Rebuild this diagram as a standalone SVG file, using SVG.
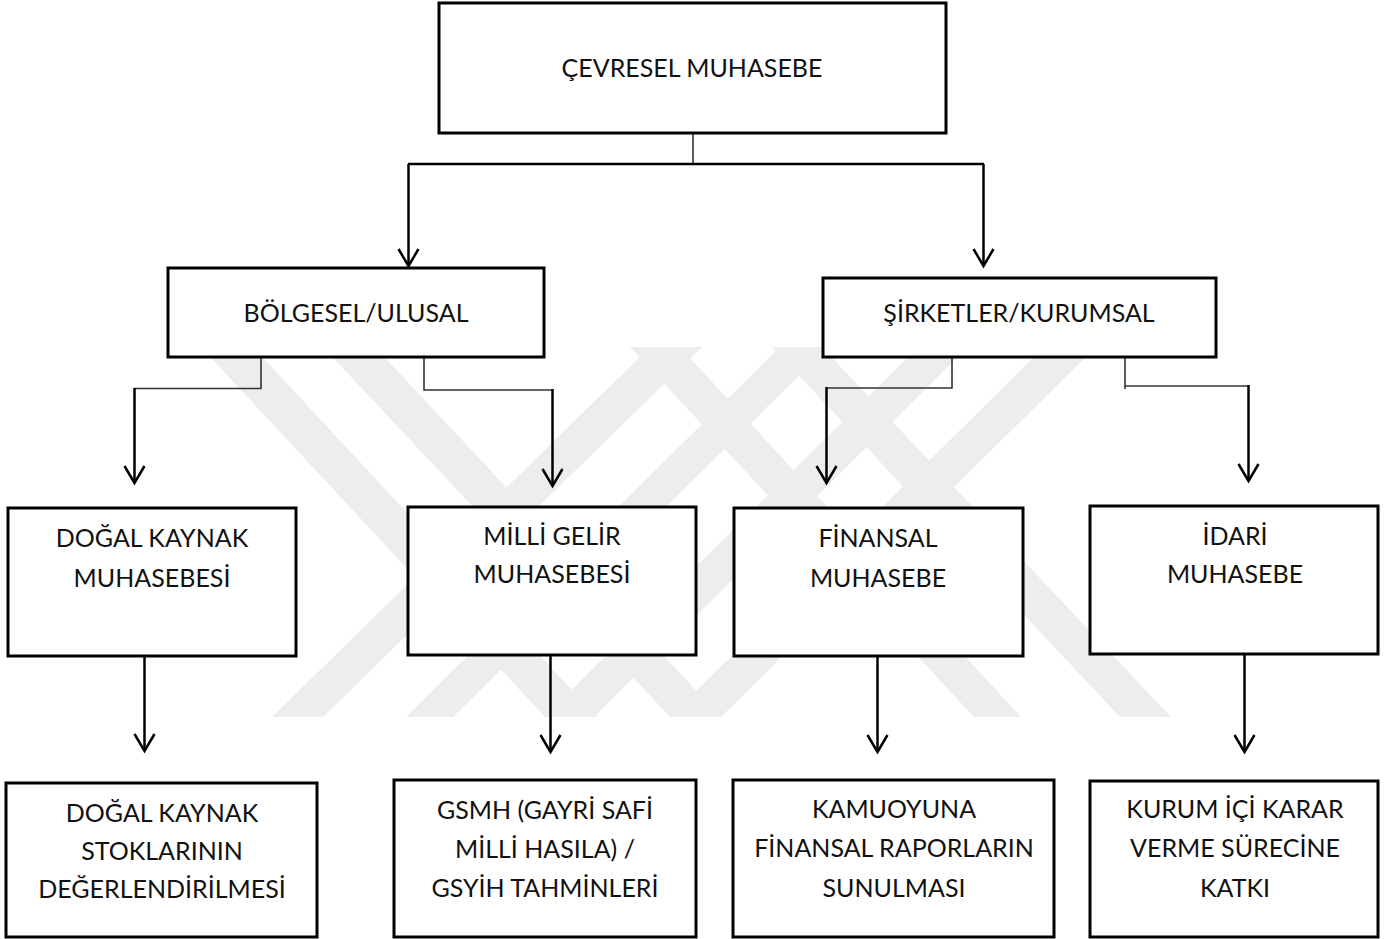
<svg xmlns="http://www.w3.org/2000/svg" width="1387" height="939" viewBox="0 0 1387 939">
<style>
.box{fill:#ffffff;stroke:#000000;stroke-width:3}
.t{font-family:Lato,"Open Sans","Liberation Sans",sans-serif;font-size:25px;fill:#111111;text-anchor:middle}
.stub{fill:none;stroke:#333333;stroke-width:1.6}
.ln{fill:none;stroke:#000000;stroke-width:2.5}
.wm{fill:#ededed}
</style>
<defs>
<marker id="ah" markerUnits="userSpaceOnUse" viewBox="-22 -13 26 26" refX="0" refY="0" markerWidth="26" markerHeight="26" orient="auto">
<path d="M-17,-10 L0,0 L-17,10" fill="none" stroke="#000000" stroke-width="2.5" stroke-linejoin="miter"/>
</marker>
</defs>
<rect width="1387" height="939" fill="#ffffff"/>
<g id="watermark" class="wm">
<path d="M201,347 L253,347 L597,717 L545,717 Z M323,347 L375,347 L721,717 L670,717 Z M918,347 L968,347 L594,717 L544,717 Z M1044,347 L1096,347 L721,717 L670,717 Z M650,347 L702,347 L323,717 L272,717 Z M780,347 L828,347 L453,717 L406,717 Z M630,347 L680,347 L1021,717 L974,717 Z M772,347 L822,347 L1171,717 L1120,717 Z"/>
</g>
<g id="connectors">
<line class="stub" x1="693" y1="133" x2="693" y2="164"/>
<line class="ln" x1="408" y1="164" x2="984" y2="164"/>
<line class="ln" x1="408.5" y1="164" x2="408.5" y2="266" marker-end="url(#ah)"/>
<line class="ln" x1="983.5" y1="164" x2="983.5" y2="266" marker-end="url(#ah)"/>
<polyline class="stub" points="261,357 261,388.5 134,388.5"/>
<line class="ln" x1="134.5" y1="388" x2="134.5" y2="483" marker-end="url(#ah)"/>
<polyline class="stub" points="424,357 424,390 553,390"/>
<line class="ln" x1="552.5" y1="389" x2="552.5" y2="486" marker-end="url(#ah)"/>
<polyline class="stub" points="952,357 952,388 826,388"/>
<line class="ln" x1="826.5" y1="387" x2="826.5" y2="483" marker-end="url(#ah)"/>
<polyline class="stub" points="1125,357 1125,389"/>
<line class="stub" x1="1125" y1="386" x2="1249" y2="386"/>
<line class="ln" x1="1248.5" y1="385" x2="1248.5" y2="481" marker-end="url(#ah)"/>
<line class="ln" x1="144.5" y1="656" x2="144.5" y2="751" marker-end="url(#ah)"/>
<line class="ln" x1="550.5" y1="655" x2="550.5" y2="752" marker-end="url(#ah)"/>
<line class="ln" x1="877.5" y1="656" x2="877.5" y2="752" marker-end="url(#ah)"/>
<line class="ln" x1="1244.5" y1="654" x2="1244.5" y2="752" marker-end="url(#ah)"/>
</g>
<g id="n-cevresel">
<rect class="box" x="439" y="3" width="507" height="130"/>
<text class="t" x="692" y="77">ÇEVRESEL MUHASEBE</text>
</g>
<g id="n-bolgesel">
<rect class="box" x="168" y="268" width="376" height="89"/>
<text class="t" x="356" y="322">BÖLGESEL/ULUSAL</text>
</g>
<g id="n-sirketler">
<rect class="box" x="823" y="278" width="393" height="79"/>
<text class="t" x="1019" y="322">ŞİRKETLER/KURUMSAL</text>
</g>
<g id="n-dogal">
<rect class="box" x="8" y="508" width="288" height="148"/>
<text class="t" x="152" y="547">DOĞAL KAYNAK</text>
<text class="t" x="152" y="587">MUHASEBESİ</text>
</g>
<g id="n-milli">
<rect class="box" x="408" y="507" width="288" height="148"/>
<text class="t" x="552" y="545">MİLLİ GELİR</text>
<text class="t" x="552" y="583">MUHASEBESİ</text>
</g>
<g id="n-finansal">
<rect class="box" x="734" y="508" width="289" height="148"/>
<text class="t" x="878" y="547">FİNANSAL</text>
<text class="t" x="878" y="587">MUHASEBE</text>
</g>
<g id="n-idari">
<rect class="box" x="1090" y="506" width="288" height="148"/>
<text class="t" x="1235" y="545">İDARİ</text>
<text class="t" x="1235" y="583">MUHASEBE</text>
</g>
<g id="n-stok">
<rect class="box" x="6" y="783" width="311" height="154"/>
<text class="t" x="162" y="822">DOĞAL KAYNAK</text>
<text class="t" x="162" y="860">STOKLARININ</text>
<text class="t" x="162" y="898">DEĞERLENDİRİLMESİ</text>
</g>
<g id="n-gsmh">
<rect class="box" x="394" y="780" width="302" height="157"/>
<text class="t" x="545" y="819">GSMH (GAYRİ SAFİ</text>
<text class="t" x="545" y="858">MİLLİ HASILA) /</text>
<text class="t" x="545" y="897">GSYİH TAHMİNLERİ</text>
</g>
<g id="n-kamuoyu">
<rect class="box" x="733" y="780" width="321" height="157"/>
<text class="t" x="894" y="818">KAMUOYUNA</text>
<text class="t" x="894" y="857">FİNANSAL RAPORLARIN</text>
<text class="t" x="894" y="897">SUNULMASI</text>
</g>
<g id="n-kurum">
<rect class="box" x="1090" y="781" width="288" height="156"/>
<text class="t" x="1235" y="818">KURUM İÇİ KARAR</text>
<text class="t" x="1235" y="857">VERME SÜRECİNE</text>
<text class="t" x="1235" y="897">KATKI</text>
</g>
</svg>
